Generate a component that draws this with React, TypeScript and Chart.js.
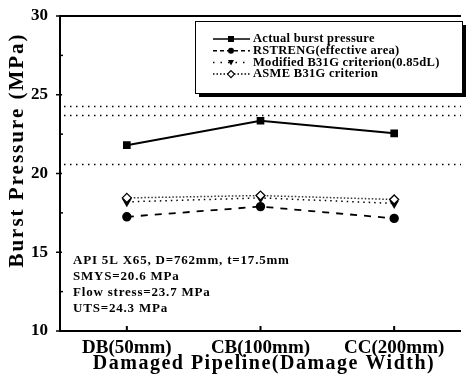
import React, { useEffect, useRef } from 'react';
import { Chart, registerables } from 'chart.js';
Chart.register(...registerables);

const categories = ['DB(50mm)', 'CB(100mm)', 'CC(200mm)'];
const actualBurst = [21.8, 23.35, 22.55];
const rstreng = [17.25, 17.9, 17.15];
const modifiedB31G = [18.2, 18.45, 18.1];
const asmeB31G = [18.45, 18.6, 18.35];
const seriesNames = [
  'Actual burst pressure',
  'RSTRENG(effective area)',
  'Modified B31G criterion(0.85dL)',
  'ASME B31G criterion',
];
const refLines = [24.3, 23.7, 20.6];
const yMin = 10;
const yMax = 30;
const yStep = 5;
const xTitle = 'Damaged Pipeline(Damage Width)';
const yTitle = 'Burst Pressure (MPa)';
const annotationLines = [
  'API 5L X65, D=762mm, t=17.5mm',
  'SMYS=20.6 MPa',
  'Flow stress=23.7 MPa',
  'UTS=24.3 MPa',
];

const SERIF = '"Liberation Serif", "DejaVu Serif", serif';

function drawMarker(ctx: CanvasRenderingContext2D, style: string, x: number, y: number, r: number) {
  ctx.save();
  ctx.setLineDash([]);
  ctx.fillStyle = '#000';
  ctx.strokeStyle = '#000';
  ctx.lineWidth = 1.2;
  ctx.beginPath();
  if (style === 'rect') {
    ctx.rect(x - r, y - r, 2 * r, 2 * r);
    ctx.fill();
  } else if (style === 'circle') {
    ctx.arc(x, y, r, 0, Math.PI * 2);
    ctx.fill();
  } else if (style === 'tri') {
    ctx.moveTo(x - r, y - r * 0.8);
    ctx.lineTo(x + r, y - r * 0.8);
    ctx.lineTo(x, y + r);
    ctx.closePath();
    ctx.fill();
  } else if (style === 'diamond') {
    ctx.fillStyle = '#fff';
    ctx.moveTo(x, y - r);
    ctx.lineTo(x + r, y);
    ctx.lineTo(x, y + r);
    ctx.lineTo(x - r, y);
    ctx.closePath();
    ctx.fill();
    ctx.stroke();
  }
  ctx.restore();
}

const legendStyles = [
  { dash: [] as number[], marker: 'rect' },
  { dash: [4, 3], marker: 'circle' },
  { dash: [1.5, 6], marker: 'tri' },
  { dash: [1.5, 2], marker: 'diamond' },
];

const framePlugin = {
  id: 'framePlugin',
  beforeDatasetsDraw(chart: any) {
    const { ctx, chartArea } = chart;
    const y = chart.scales.y;
    ctx.save();
    ctx.strokeStyle = '#000';
    ctx.lineWidth = 1.5;
    ctx.setLineDash([1.5, 4.5]);
    refLines.forEach((v) => {
      const py = Math.round(y.getPixelForValue(v)) + 0.5;
      ctx.beginPath();
      ctx.moveTo(chartArea.left + 4, py);
      ctx.lineTo(chartArea.right, py);
      ctx.stroke();
    });
    ctx.restore();
  },
  afterDraw(chart: any) {
    const { ctx, chartArea } = chart;
    const x = chart.scales.x;
    const y = chart.scales.y;
    ctx.save();
    ctx.strokeStyle = '#000';
    ctx.setLineDash([]);
    ctx.lineWidth = 2;
    ctx.beginPath();
    ctx.moveTo(chartArea.right, chartArea.top);
    ctx.lineTo(chartArea.left, chartArea.top);
    ctx.lineTo(chartArea.left, chartArea.bottom);
    ctx.lineTo(chartArea.right, chartArea.bottom);
    ctx.stroke();
    // y ticks
    ctx.lineWidth = 1.5;
    for (let v = yMin; v <= yMax; v += yStep / 2) {
      const py = y.getPixelForValue(v);
      const major = Math.abs((v - yMin) % yStep) < 1e-6;
      ctx.beginPath();
      if (major) {
        ctx.moveTo(chartArea.left - 4, py);
        ctx.lineTo(chartArea.left + 2, py);
      } else {
        ctx.moveTo(chartArea.left, py);
        ctx.lineTo(chartArea.left + 3, py);
      }
      ctx.stroke();
    }
    // x ticks
    ctx.lineWidth = 2;
    categories.forEach((_, i) => {
      const px = x.getPixelForValue(i);
      ctx.beginPath();
      ctx.moveTo(px, chartArea.bottom);
      ctx.lineTo(px, chartArea.bottom - 5);
      ctx.stroke();
    });

    // axis titles
    ctx.fillStyle = '#000';
    (ctx as any).letterSpacing = '1.5px';
    ctx.font = 'bold 20px ' + SERIF;
    ctx.textAlign = 'center';
    ctx.textBaseline = 'middle';
    ctx.fillText(xTitle, 264, 364);
    ctx.save();
    (ctx as any).letterSpacing = '2px';
    ctx.font = 'bold 21px ' + SERIF;
    ctx.translate(18, 150);
    ctx.rotate(-Math.PI / 2);
    ctx.fillText(yTitle, 0, 0);
    ctx.restore();
    (ctx as any).letterSpacing = '0px';

    // legend box
    const bx = 195, by = 21, bw = 267, bh = 72;
    ctx.fillStyle = '#000';
    ctx.fillRect(bx + 4, by + 4, bw, bh);
    ctx.fillStyle = '#fff';
    ctx.fillRect(bx, by, bw, bh);
    ctx.lineWidth = 1;
    ctx.strokeStyle = '#000';
    ctx.strokeRect(bx + 0.5, by + 0.5, bw, bh);
    ctx.font = 'bold 12.5px ' + SERIF;
    ctx.textBaseline = 'middle';
    ctx.textAlign = 'left';
    seriesNames.forEach((name, i) => {
      const ly = by + 18 + i * 11.7;
      const st = legendStyles[i];
      ctx.save();
      ctx.lineWidth = 1.5;
      ctx.setLineDash(st.dash);
      ctx.beginPath();
      ctx.moveTo(213, ly);
      ctx.lineTo(250, ly);
      ctx.stroke();
      ctx.restore();
      drawMarker(ctx, st.marker, 231, ly, st.marker === 'diamond' ? 3.5 : 3);
      ctx.fillStyle = '#000';
      (ctx as any).letterSpacing = '0.3px';
      ctx.fillText(name, 253, ly);
      (ctx as any).letterSpacing = '0px';
    });

    // annotation
    (ctx as any).letterSpacing = '0.8px';
    ctx.font = 'bold 13px ' + SERIF;
    ctx.fillStyle = '#000';
    annotationLines.forEach((t, i) => {
      ctx.fillText(t, 73, 261 + i * 16);
    });
    (ctx as any).letterSpacing = '0px';
    ctx.restore();
  },
};

export default function App() {
  const ref = useRef<HTMLCanvasElement>(null);
  useEffect(() => {
    if (!ref.current) return;
    const pt = (style: string, r: number) => ({ pointStyle: style, pointRadius: r });
    const chart = new Chart(ref.current, {
      type: 'line',
      data: {
        labels: categories,
        datasets: [
          {
            label: seriesNames[3],
            data: asmeB31G,
            borderColor: '#333',
            borderWidth: 1.5,
            borderDash: [1.5, 2],
            backgroundColor: '#fff',
            pointBorderColor: '#000',
            pointBorderWidth: 1.3,
            ...pt('rectRot', 4.5),
          },
          {
            label: seriesNames[2],
            data: modifiedB31G,
            borderColor: '#000',
            borderWidth: 1.5,
            borderDash: [1.5, 4],
            backgroundColor: '#000',
            pointBorderColor: '#000',
            pointRotation: 180,
            ...pt('triangle', 4),
          },
          {
            label: seriesNames[1],
            data: rstreng,
            borderColor: '#000',
            borderWidth: 1.8,
            borderDash: [7, 7],
            backgroundColor: '#000',
            pointBorderColor: '#000',
            ...pt('circle', 3.8),
          },
          {
            label: seriesNames[0],
            data: actualBurst,
            borderColor: '#000',
            borderWidth: 2,
            backgroundColor: '#000',
            pointBorderColor: '#000',
            ...pt('rect', 4),
          },
        ],
      },
      options: {
        animation: false,
        responsive: false,
        maintainAspectRatio: false,
        layout: { padding: { top: 16, right: 0, left: 0, bottom: 0 } },
        plugins: { legend: { display: false }, tooltip: { enabled: false } },
        scales: {
          x: {
            type: 'category',
            offset: true,
            grid: { display: false },
            border: { display: false },
            ticks: {
              color: '#000',
              font: { family: SERIF, size: 19, weight: 'bold' },
              padding: -2,
              maxRotation: 0,
              autoSkip: false,
            },
            afterFit: (s: any) => { s.height = 45; },
          },
          y: {
            min: yMin,
            max: yMax,
            grid: { display: false },
            border: { display: false },
            ticks: {
              stepSize: yStep,
              color: '#000',
              font: { family: SERIF, size: 17, weight: 'bold' },
              padding: 4,
            },
            afterFit: (s: any) => { s.width = 60; },
          },
        },
      },
      plugins: [framePlugin],
    });
    return () => chart.destroy();
  }, []);
  return (
    <div style={{ position: 'fixed', left: 0, top: 0, width: 467, height: 376, background: '#fff' }}>
      <canvas ref={ref} width={467} height={376} style={{ width: 467, height: 376, display: 'block' }} />
    </div>
  );
}
